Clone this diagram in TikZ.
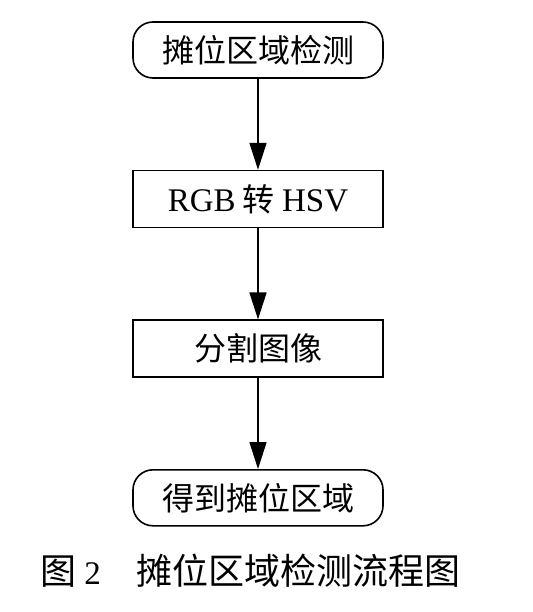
\documentclass[tikz,border=0pt]{standalone}
\usepackage{fontspec}
\setmainfont{Liberation Serif}
\newfontfamily\cjk{Noto Sans CJK SC}
\usetikzlibrary{arrows.meta,positioning}

\newcommand{\lat}[1]{{\rmfamily\fontsize{33}{36}\selectfont #1}}

\begin{document}
\begin{tikzpicture}[
  x=1pt, y=1pt,
  node distance=91pt,
  every node/.style={font=\cjk\fontsize{32}{36}\selectfont, align=center, inner sep=0pt},
  terminal/.style={rectangle, rounded corners=20pt, minimum width=250pt, minimum height=56pt, draw=black, line width=1.6pt},
  process/.style={rectangle, minimum width=250pt, minimum height=57pt, draw=black, line width=1.6pt},
  edge/.style={draw=black, line width=1.6pt, -{Triangle[length=27pt,width=17pt]}}
]
  \useasboundingbox (0,0) rectangle (532,-612);
  \node[terminal] (detect) at (258,-50) {摊位区域检测};
  \node[process, below=of detect] (convert) {\lat{RGB} 转 \lat{HSV}};
  \node[process, below=of convert] (segment) {分割图像};
  \node[terminal, below=of segment] (result) {得到摊位区域};

  \draw[edge] (detect) -- (convert);
  \draw[edge] (convert) -- (segment);
  \draw[edge] (segment) -- (result);

  % caption
  \node[anchor=west, font=\cjk\fontsize{36}{40}\selectfont] (caption) at (40,-571) {图 \lat{2}\hspace{36pt}摊位区域检测流程图};
\end{tikzpicture}
\end{document}
